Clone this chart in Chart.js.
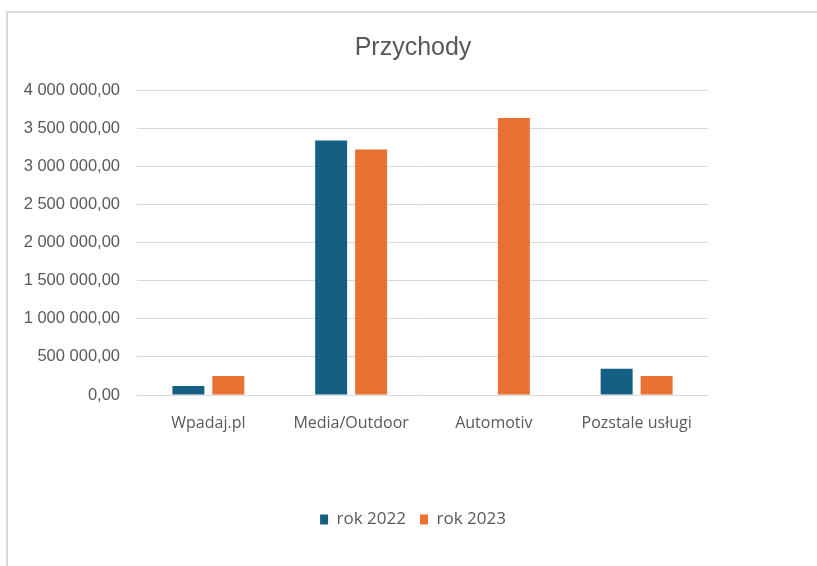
<!DOCTYPE html>
<html>
<head>
<meta charset="utf-8">
<script src="https://cdn.jsdelivr.net/npm/chart.js@4"></script>
<style>
  html, body { margin: 0; padding: 0; background: #fff; }
  body { width: 817px; height: 566px; position: relative; overflow: hidden; }
  #frame { position: absolute; left: 6px; top: 11px; width: 830px; height: 580px;
           border-top: 2px solid #d9d9d9; border-left: 2px solid #d9d9d9; }
  #wrap { position: absolute; left: 0; top: 0; width: 817px; height: 566px; }
</style>
</head>
<body>
<div id="frame"></div>
<div id="wrap"><canvas id="chart"></canvas></div>
<script>
// data
const categories = ["Wpadaj.pl", "Media/Outdoor", "Automotiv", "Pozstale usługi"];
const rok2022 = [118000, 3338000, 0, 344000];
const rok2023 = [249000, 3220000, 3634000, 249000];
const yTicks = [0, 500000, 1000000, 1500000, 2000000, 2500000, 3000000, 3500000, 4000000];

const BLUE = "#156082";
const ORANGE = "#E97132";
const TEXT = "#595959";
const GRID = "#d9d9d9";

// "3 500 000,00"
const fmt = v => {
  const [i, d] = Number(v).toFixed(2).split(".");
  return i.replace(/\B(?=(\d{3})+(?!\d))/g, " ") + "," + d;
};

new Chart(document.getElementById("chart").getContext("2d"), {
  type: "bar",
  data: {
    labels: categories,
    datasets: [
      { label: "rok 2022", data: rok2022, backgroundColor: BLUE, borderWidth: 0 },
      { label: "rok 2023", data: rok2023, backgroundColor: ORANGE, borderWidth: 0 }
    ]
  },
  options: {
    responsive: true,
    maintainAspectRatio: false,
    animation: false,
    categoryPercentage: 0.56,
    barPercentage: 0.8,
    layout: { padding: { top: 33, left: 9, right: 0, bottom: 28 } },
    plugins: {
      title: {
        display: true,
        text: "Przychody",
        color: TEXT,
        font: { family: "'Liberation Sans', Arial, sans-serif", size: 25, weight: "normal" },
        padding: { top: 0, bottom: 27 }
      },
      legend: {
        position: "bottom",
        labels: {
          color: TEXT,
          boxWidth: 8,
          boxHeight: 10,
          padding: 14,
          font: { family: "'Open Sans', sans-serif", size: 17 }
        }
      },
      tooltip: { enabled: false }
    },
    scales: {
      x: {
        grid: { display: false },
        border: { display: false },
        ticks: { color: TEXT, padding: 11, font: { family: "'Open Sans', sans-serif", size: 16 } },
        afterFit: s => { s.height = 102; }
      },
      y: {
        min: 0,
        max: 4000000,
        afterBuildTicks: s => { s.ticks = yTicks.map(v => ({ value: v })); },
        grid: { color: GRID, lineWidth: 1, drawTicks: false },
        border: { display: false },
        ticks: {
          color: TEXT,
          padding: 17,
          font: { family: "'Liberation Sans', Arial, sans-serif", size: 16.5 },
          callback: v => fmt(v)
        },
        afterFit: s => { s.width = 128; }
      },
      // empty right margin, so title and legend stay centred on the whole frame
      pad: {
        type: "linear",
        position: "right",
        grid: { display: false },
        border: { display: false },
        ticks: { display: false },
        afterFit: s => { s.width = 109; }
      }
    }
  }
});
</script>
</body>
</html>
